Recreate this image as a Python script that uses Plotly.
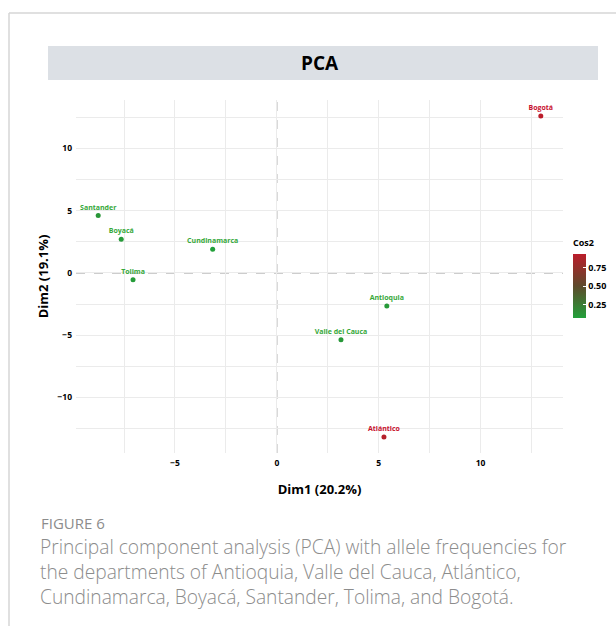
import plotly.graph_objects as go

# ---- data ----
departments = ["Bogotá", "Santander", "Boyacá", "Cundinamarca", "Tolima",
               "Antioquia", "Valle del Cauca", "Atlántico"]
dim1 = [12.96, -8.77, -7.64, -3.15, -7.06, 5.40, 3.15, 5.26]
dim2 = [12.60, 4.62, 2.70, 1.90, -0.55, -2.65, -5.36, -13.17]
cos2 = [0.93, 0.12, 0.10, 0.07, 0.09, 0.10, 0.11, 0.90]
x_ticks = [-5, 0, 5, 10]
y_ticks = [-10, -5, 0, 5, 10]

W, H = 616, 626
ML, MR, MT, MB = 76, 53, 100, 173
PW, PH = W - ML - MR, H - MT - MB

def px_x(p):
    return (p - ML) / PW

def px_y(p):
    return (H - MB - p) / PH

cscale = [[0.0, "#22a03a"], [0.5, "#5e4a2b"], [1.0, "#bb1d2b"]]
cmin, cmax = min(cos2), max(cos2)
norm = [(c - cmin) / (cmax - cmin) for c in cos2]
pt_colors = ["#c8102e" if n > 0.5 else "#36a83a" for n in norm]

FONT = "Open Sans"

fig = go.Figure()
fig.add_trace(go.Scatter(
    x=dim1, y=dim2, mode="markers+text", text=departments,
    textposition="top center",
    textfont=dict(family=FONT, size=7, color=pt_colors, weight="bold"),
    marker=dict(size=5, color=cos2, colorscale=cscale, cmin=cmin, cmax=cmax,
                showscale=True,
                colorbar=dict(
                    title=dict(text="<b>Cos2</b>", font=dict(family=FONT, size=9, color="black"), side="top"),
                    x=px_x(573), xanchor="left", xref="paper", xpad=0,
                    y=px_y(236), yanchor="top", yref="paper", ypad=0,
                    len=82, lenmode="pixels", thickness=13,
                    outlinewidth=0,
                    tickvals=[0.25, 0.5, 0.75], ticktext=["0.25", "0.50", "0.75"],
                    ticks="inside", ticklen=3, tickcolor="white",
                    tickfont=dict(family=FONT, size=9, color="black", weight="bold"),
                )),
    showlegend=False, cliponaxis=False, hoverinfo="skip"))

axis_common = dict(showline=False, ticks="", zeroline=False,
                   gridcolor="#ebebeb", gridwidth=1, ticklabelstandoff=3,
                   tickfont=dict(family=FONT, size=8.5, color="black", weight="bold"))
fig.update_xaxes(range=[-9.86, 14.05], tickvals=x_ticks,
                 minor=dict(dtick=2.5, tick0=0, showgrid=True, gridcolor="#ebebeb", gridwidth=1),
                 title=dict(text="<b>Dim1 (20.2%)</b>", font=dict(family=FONT, size=13, color="black"), standoff=18),
                 **axis_common)
fig.update_yaxes(range=[-14.46, 13.89], tickvals=y_ticks,
                 minor=dict(dtick=2.5, tick0=0, showgrid=True, gridcolor="#ebebeb", gridwidth=1),
                 title=dict(text="<b>Dim2 (19.1%)</b>", font=dict(family=FONT, size=13, color="black"), standoff=5),
                 **axis_common)

shapes = [
    dict(type="line", xref="x", yref="paper", x0=0, x1=0, y0=0, y1=1,
         line=dict(color="#bdbdbd", width=1.5, dash="dash"), layer="below"),
    dict(type="line", xref="paper", yref="y", x0=0, x1=1, y0=0, y1=0,
         line=dict(color="#bdbdbd", width=1.5, dash="dash"), layer="below"),
    dict(type="rect", xref="paper", yref="paper", x0=px_x(48), x1=px_x(598),
         y0=px_y(80), y1=px_y(46), fillcolor="#dce0e5", line=dict(width=0)),
    dict(type="line", xref="paper", yref="paper", x0=px_x(9), x1=px_x(616),
         y0=px_y(13), y1=px_y(13), line=dict(color="#d6d6d6", width=1.5)),
    dict(type="line", xref="paper", yref="paper", x0=px_x(9), x1=px_x(9),
         y0=px_y(13), y1=px_y(626), line=dict(color="#d6d6d6", width=1.5)),
]

caption = ["Principal component analysis (PCA) with allele frequencies for",
           "the departments of Antioquia, Valle del Cauca, Atlántico,",
           "Cundinamarca, Boyacá, Santander, Tolima, and Bogotá."]

annotations = [
    dict(text="<b>PCA</b>", xref="paper", yref="paper", x=px_x(320), y=px_y(63),
         showarrow=False, font=dict(family=FONT, size=19, color="black"),
         xanchor="center", yanchor="middle"),
    dict(text="FIGURE 6", xref="paper", yref="paper", x=px_x(39), y=px_y(523),
         showarrow=False, font=dict(family=FONT, size=15, color="#8c8c8c"),
         xanchor="left", yanchor="middle"),
    dict(text="<br>".join(caption), xref="paper", yref="paper", x=px_x(39),
         y=px_y(571), showarrow=False, align="left", borderpad=0,
         font=dict(family=FONT, size=19.2, color="#8c8c8c", weight=300),
         xanchor="left", yanchor="middle"),
]

fig.update_layout(width=W, height=H, margin=dict(l=ML, r=MR, t=MT, b=MB, autoexpand=False),
                  paper_bgcolor="white", plot_bgcolor="white",
                  shapes=shapes, annotations=annotations)

fig.write_html("out.html", config={"displayModeBar": False},
               post_script="document.body.style.margin='0';document.body.style.overflow='hidden';")
